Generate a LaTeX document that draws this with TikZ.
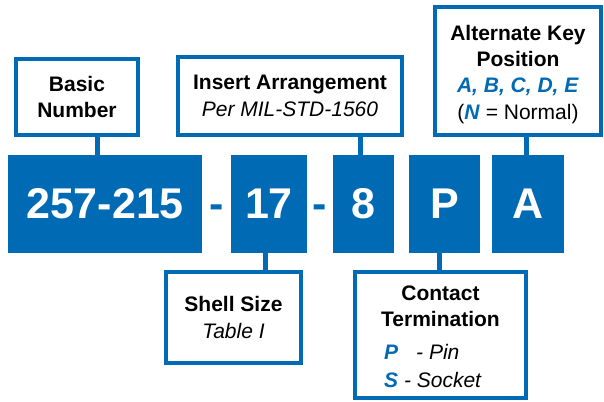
\documentclass[tikz,border=0pt]{standalone}
\usepackage{fontspec}
\setmainfont{Liberation Sans}
\usetikzlibrary{calc}
\definecolor{codeblue}{RGB}{0,106,180}
\newcommand{\keyletter}[1]{\textcolor{codeblue}{\textbf{\textit{#1}}}}

\begin{document}
\begin{tikzpicture}[x=1pt, y=-1pt,
    code/.style={fill=codeblue, text=white, inner sep=0pt, font=\fontsize{43}{50}\selectfont\bfseries},
    sep/.style={text=codeblue, inner sep=0pt, anchor=base, font=\fontsize{43}{50}\selectfont\bfseries},
    info/.style={draw=codeblue, line width=4pt, fill=white, align=center, inner sep=0pt, font=\fontsize{21}{26.3}\selectfont},
    link/.style={draw=codeblue, line width=5pt}]
        \useasboundingbox (0,0) rectangle (604,401);

        % part number
        \node[code, minimum width=194, minimum height=98] (C1) at (105,204) {257-215};
        \node[code, minimum width=76, minimum height=98] (C2) at (269,204) {17};
        \node[code, minimum width=61, minimum height=98] (C3) at (363.5,204) {8};
        \node[code, minimum width=71, minimum height=98] (C4) at (444.5,204) {P};
        \node[code, minimum width=72, minimum height=98] (C5) at (528,204) {A};

        \node[sep] (S1) at ($(C1.base east)!.5!(C2.base west)$) {-};
        \node[sep] (S2) at ($(C2.base east)!.5!(C3.base west)$) {-};

        % labels
        \node[info, minimum width=122, minimum height=76] (L1) at (77,97)
          {\textbf{Basic}\\\textbf{Number}};
        \node[info, minimum width=224, minimum height=78] (L2) at (290,96)
          {\textbf{Insert Arrangement}\\\textit{Per MIL-STD-1560}};
        \node[info, minimum width=166, minimum height=128] (L3) at (518,71)
          {\rule{0pt}{21.5pt}\textbf{Alternate Key}\\\textbf{Position}\\\keyletter{A, B, C, D, E}\\(\keyletter{N} = Normal)};
        \node[info, minimum width=135, minimum height=91] (L4) at (233.5,317.5)
          {\textbf{Shell Size}\\\textit{Table I}};
        \node[info, minimum width=171, minimum height=126] (L5) at (440.5,335)
          {\rule{0pt}{25pt}\textbf{Contact}\\\textbf{Termination}\\[7pt]\begin{tabular}[t]{@{}l@{}}\keyletter{P}\hspace{18pt}\textit{- Pin}\\[1pt]\keyletter{S} \textit{- Socket}\end{tabular}\kern15pt};

        \coordinate (K1) at ([xshift=20.5]L1.south);
        \coordinate (K2) at ([xshift=-3.5]C3.north);
        \coordinate (K3) at ([xshift=-2]C5.north);
        \coordinate (K4) at ([xshift=-4]C2.south);
        \coordinate (K5) at ([xshift=-5.5]C4.south);

        \draw[link] (K1) -- (K1 |- C1.north);
        \draw[link] (K2) -- (K2 |- L2.south);
        \draw[link] (K3) -- (K3 |- L3.south);
        \draw[link] (K4) -- (K4 |- L4.north);
        \draw[link] (K5) -- (K5 |- L5.north);
\end{tikzpicture}
\end{document}
